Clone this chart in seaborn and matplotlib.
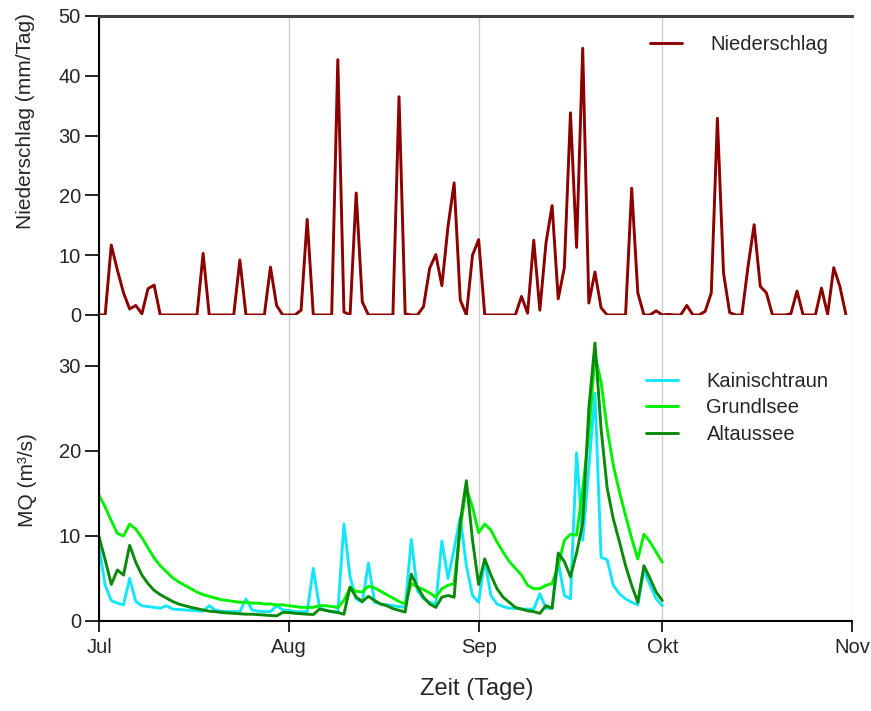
import pandas as pd
import seaborn as sns
import matplotlib.pyplot as plt

# Tageswerte Niederschlag (mm/Tag), 1. Jul - 31. Okt
niederschlag = [0, 0, 11.7, 7.5, 3.7, 1.0, 1.6, 0.2, 4.4, 5.0,
                0, 0, 0, 0, 0, 0, 0, 10.3, 0, 0,
                0, 0, 0, 9.2, 0, 0, 0, 0, 8.0, 1.6,
                0, 0, 0, 0.8, 16.0, 0, 0, 0, 0, 42.7,
                0.5, 0, 20.4, 2.2, 0, 0, 0, 0, 0, 36.5,
                0.2, 0, 0, 1.4, 7.8, 10.1, 4.9, 14.8, 22.1, 2.5,
                0, 10.0, 12.6, 0, 0, 0, 0, 0, 0, 3.1,
                0.3, 12.5, 0.8, 12.0, 18.3, 2.7, 7.9, 33.8, 11.3, 44.6,
                2.0, 7.2, 1.2, 0, 0, 0, 0, 21.2, 3.7, 0,
                0, 0.7, 0, 0.1, 0, 0, 1.6, 0, 0, 0.6,
                3.7, 32.9, 7.0, 0.4, 0, 0, 8.1, 15.1, 4.8, 3.7,
                0, 0, 0, 0.2, 4.0, 0, 0, 0, 4.5, 0.1,
                7.9, 4.8, 0]

# Tagesmittel Abfluss (m3/s), 1. Jul - 1. Okt
kainischtraun = [8.7, 4.2, 2.4, 2.1, 1.9, 5.0, 2.3, 1.8, 1.7, 1.6,
                 1.5, 1.8, 1.4, 1.35, 1.3, 1.25, 1.2, 1.15, 1.8, 1.25,
                 1.15, 1.1, 1.1, 1.1, 2.6, 1.3, 1.15, 1.1, 1.1, 1.8,
                 1.3, 1.25, 1.1, 1.1, 1.1, 6.2, 1.6, 1.25, 1.1, 1.05,
                 11.4, 5.2, 2.6, 2.2, 6.8, 2.2, 2.0, 1.9, 1.8, 1.7,
                 1.6, 9.6, 3.6, 2.6, 2.2, 2.0, 9.4, 5.0, 8.5, 12.2,
                 6.5, 3.0, 2.2, 7.2, 3.0, 2.0, 1.7, 1.5, 1.5, 1.4,
                 1.4, 1.4, 3.2, 1.5, 1.5, 7.0, 3.0, 2.6, 19.8, 9.5,
                 18.0, 26.8, 7.5, 7.2, 4.2, 3.2, 2.6, 2.2, 1.9, 6.0,
                 4.2, 2.6, 1.8]
grundlsee = [14.8, 13.4, 11.8, 10.3, 10.0, 11.4, 10.8, 9.8, 8.6, 7.4,
             6.5, 5.8, 5.1, 4.6, 4.2, 3.8, 3.4, 3.1, 2.9, 2.7,
             2.5, 2.4, 2.3, 2.2, 2.2, 2.1, 2.1, 2.0, 2.0, 1.9,
             1.9, 1.8, 1.7, 1.6, 1.6, 1.6, 1.8, 1.8, 1.7, 1.6,
             2.4, 3.9, 3.5, 3.4, 4.1, 3.9, 3.5, 3.1, 2.7, 2.3,
             2.0, 4.4, 4.0, 3.7, 3.3, 2.8, 3.8, 4.2, 4.4, 11.0,
             15.6, 13.4, 10.4, 11.4, 10.7, 9.3, 8.1, 7.0, 6.2, 5.4,
             4.2, 3.8, 3.8, 4.2, 4.4, 6.5, 9.5, 10.2, 10.1, 15.5,
             22.0, 31.3, 28.1, 22.6, 18.3, 15.2, 12.4, 9.7, 7.3, 10.2,
             9.3, 8.1, 6.9]
altaussee = [9.9, 7.2, 4.3, 6.0, 5.4, 8.9, 6.9, 5.4, 4.4, 3.6,
             3.1, 2.7, 2.3, 2.0, 1.8, 1.6, 1.45, 1.3, 1.15, 1.1,
             1.0, 0.95, 0.9, 0.85, 0.8, 0.8, 0.75, 0.7, 0.65, 0.6,
             1.0, 1.0, 0.9, 0.85, 0.8, 0.75, 1.4, 1.25, 1.1, 1.0,
             0.8, 4.0, 2.8, 2.3, 2.9, 2.4, 2.0, 1.8, 1.45, 1.25,
             1.05, 5.5, 4.0, 2.8, 2.0, 1.6, 2.8, 3.0, 2.8, 11.6,
             16.5, 9.5, 4.3, 7.3, 5.4, 3.8, 2.8, 2.2, 1.6, 1.4,
             1.2, 1.1, 0.9, 1.8, 1.5, 8.0, 7.0, 5.2, 8.0, 11.5,
             25.0, 32.7, 22.6, 15.6, 12.0, 9.3, 6.5, 4.2, 2.2, 6.5,
             5.0, 3.4, 2.4]

month_starts = ["2009-07-01", "2009-08-01", "2009-09-01", "2009-10-01", "2009-11-01"]
month_labels = ["Jul", "Aug", "Sep", "Okt", "Nov"]

tage_n = pd.date_range("2009-07-01", periods=len(niederschlag), freq="D")
tage_q = pd.date_range("2009-07-01", periods=len(grundlsee), freq="D")
ticks = pd.to_datetime(month_starts)

sns.set_style("white")
plt.rcParams['font.family'] = ['Liberation Sans', 'DejaVu Sans']

fig = plt.figure(figsize=(8.71, 7.11), dpi=100)
ax1 = fig.add_axes([0.1137, 0.557, 0.8646, 0.4205])
ax2 = fig.add_axes([0.1137, 0.1266, 0.8646, 0.4304])

# oben: Niederschlag
sns.lineplot(x=tage_n, y=niederschlag, ax=ax1, color="#8c0000", lw=2.1,
             label="Niederschlag", clip_on=False)
ax1.set_ylim(0, 50)
ax1.set_yticks(range(0, 51, 10))
ax1.set_ylabel("Niederschlag (mm/Tag)", fontsize=15)
ax1.yaxis.set_label_coords(-0.085, 0.65)

# unten: Abfluss
sns.lineplot(x=tage_q, y=kainischtraun, ax=ax2, color="#14e6fa", lw=2.1, label="Kainischtraun")
sns.lineplot(x=tage_q, y=grundlsee, ax=ax2, color="#00f000", lw=2.1, label="Grundlsee")
sns.lineplot(x=tage_q, y=altaussee, ax=ax2, color="#0a8a0a", lw=2.1, label="Altaussee")
ax2.set_ylim(0, 36)
ax2.set_yticks(range(0, 31, 10))
ax2.set_ylabel("MQ (m³/s)", fontsize=15)
ax2.yaxis.set_label_coords(-0.082, 0.46)
ax2.set_xlabel("Zeit (Tage)", fontsize=17)
ax2.xaxis.set_label_coords(0.502, -0.185)

for ax in (ax1, ax2):
    ax.set_xlim(ticks[0], ticks[-1])
    ax.set_xticks(ticks)
    ax.grid(axis="x", color="#cfcfcf", lw=1)
    ax.grid(axis="y", visible=False)
    ax.tick_params(axis="y", direction="out", length=10, width=1.2, pad=3,
                   labelsize=14.5, left=True, color="black")
    ax.spines["right"].set_visible(False)
    ax.spines["left"].set_color("black")
    ax.spines["left"].set_linewidth(1.5)

ax1.set_xticklabels([])
ax1.tick_params(axis="x", length=0)
ax1.spines["bottom"].set_visible(False)
ax1.spines["top"].set_color("#404040")
ax1.spines["top"].set_linewidth(2.2)

ax2.set_xticklabels(month_labels)
ax2.tick_params(axis="x", direction="out", length=8, width=1.2, pad=4,
                labelsize=14.5, bottom=True, color="black")
ax2.spines["top"].set_visible(False)
ax2.spines["bottom"].set_color("black")
ax2.spines["bottom"].set_linewidth(1.5)

ax1.legend(loc="upper left", bbox_to_anchor=(0.718, 0.97), frameon=False,
           fontsize=14.5, handlelength=1.6, handletextpad=1.4, borderpad=0)
ax2.legend(loc="upper left", bbox_to_anchor=(0.713, 0.846), frameon=False,
           fontsize=14.5, handlelength=1.6, handletextpad=1.4, borderpad=0,
           labelspacing=0.36)

fig.savefig("out.png", dpi=100)
